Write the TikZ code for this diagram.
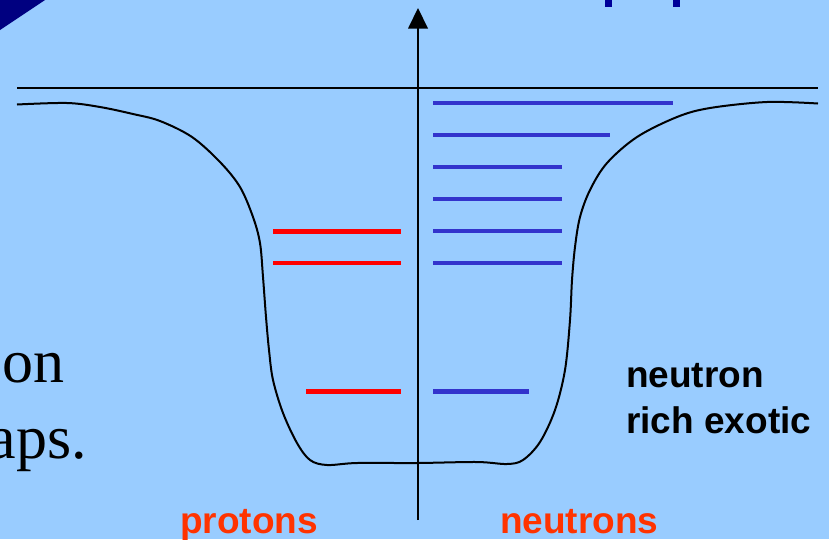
\documentclass[tikz,border=0pt]{standalone}
\usepackage{fontspec}
\setmainfont{Liberation Serif}
\setsansfont{Liberation Sans}
\definecolor{bgblue}{HTML}{99CCFF}
\definecolor{navy}{HTML}{000080}
\definecolor{levblue}{HTML}{3333CC}
\definecolor{levred}{HTML}{FF0000}
\definecolor{lblorange}{HTML}{FF3300}
\definecolor{fragblue}{HTML}{000099}
\tikzset{
  nlevel/.style={levblue, line width=4.2pt},
  plevel/.style={levred, line width=4.2pt},
  wellline/.style={black, line width=2pt, line join=round},
  axisline/.style={black, line width=2pt},
  sanslbl/.style={font=\sffamily\bfseries\fontsize{37}{43}\selectfont, inner sep=0pt},
  seriflbl/.style={font=\rmfamily\fontsize{62}{74}\selectfont, inner sep=0pt}
}
\begin{document}
\begin{tikzpicture}[x=1pt,y=-1pt]
\fill[bgblue] (0,0) rectangle (829,539);
\useasboundingbox (0,0) rectangle (829,539);
% top-left corner triangle
\fill[navy] (0,0) -- (45,0) -- (0,30) -- cycle;
% fragments of cut-off title text
\fill[fragblue] (605,0) rectangle (612,6.5);
\fill[fragblue] (673,0) rectangle (680,6.5);
% horizontal zero line
\draw[axisline] (17,87.5) -- (818,87.5);
% well
\draw[wellline] plot[smooth, tension=0.55] coordinates {
 (17,104.5) (67,103) (100,107) (133,114) (160,121) (192,137) (220,162) (240,187)
 (253,217) (260,243) (263,277) (266,317) (269,350) (273,380) (283,413)
 (297,443) (310,460) (327,465) (357,463) (417,463) (477,462) (507,464)
 (523,460) (540,442) (555,410) (565,370) (570,320) (572,280) (575,247)
 (580,217) (590,190) (607,163) (637,137) (677,117) (710,108) (767,102) (818,103.5)};
% vertical axis with arrow
\coordinate (abot) at (418,520);
\coordinate (atop) at (418,28);
\draw[axisline] (abot) -- (atop);
\fill[black] (408,28.5) -- (428,28.5) -- (418,8) -- cycle;
% neutron levels
\draw[nlevel] (433,103) -- (673,103);
\draw[nlevel] (433,135) -- (610,135);
\draw[nlevel] (433,167) -- (562,167);
\draw[nlevel] (433,199) -- (562,199);
\draw[nlevel] (433,231) -- (562,231);
\draw[nlevel] (433,263) -- (562,263);
\draw[nlevel] (433,391.5) -- (529,391.5);
% proton levels
\draw[plevel] (273,231.5) -- (401,231.5);
\draw[plevel] (273,263) -- (401,263);
\draw[plevel] (306,391.5) -- (401,391.5);
% labels
\node[sanslbl, anchor=base west] (nr1) at (626,387) {neutron};
\node[sanslbl, anchor=base west] (nr2) at (626,433) {rich exotic};
\node[sanslbl, text=lblorange, anchor=base west] (prot) at (180,533) {protons};
\node[sanslbl, text=lblorange, anchor=base west] (neut) at (500,533) {neutrons};
\node[seriflbl, anchor=base east] (on) at (65,382) {on};
\node[seriflbl, anchor=base east] (aps) at (87,458) {aps.};
\end{tikzpicture}
\end{document}
